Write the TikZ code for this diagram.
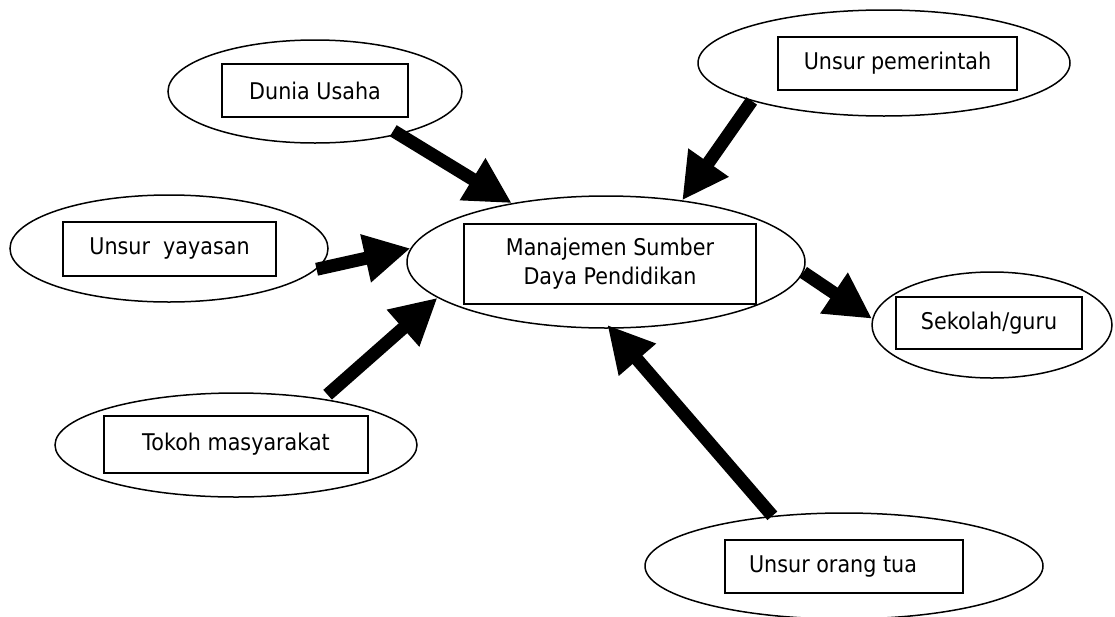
\documentclass[tikz,border=0pt]{standalone}
\usepackage{fontspec}
\setmainfont{DejaVu Sans}[FakeStretch=0.9]
\usetikzlibrary{shapes.geometric,arrows.meta}
\begin{document}
\begin{tikzpicture}[x=1pt,y=-1pt,
  ell/.style={draw=black,line width=1.5pt,shape=ellipse,inner sep=0pt},
  bx/.style={draw=black,line width=1.5pt,shape=rectangle,inner sep=0pt,align=center,
             font=\fontsize{23}{29}\selectfont},
  arr/.style={line width=13pt,line cap=butt,-{Triangle[width=46pt,length=46pt]}}]
\useasboundingbox (0,0) rectangle (1115,616);
% ellipses
\node[ell,minimum width=294pt,minimum height=103pt] (du)   at (315,91.5) {};
\node[ell,minimum width=372pt,minimum height=106pt] (pem)  at (884,63) {};
\node[ell,minimum width=318pt,minimum height=107pt] (yay)  at (169,248.5) {};
\node[ell,minimum width=398pt,minimum height=132pt] (main) at (606,262) {};
\node[ell,minimum width=240pt,minimum height=106pt] (sek)  at (992,325) {};
\node[ell,minimum width=362pt,minimum height=104pt] (tok)  at (236,445) {};
\node[ell,minimum width=398pt,minimum height=106pt] (ort)  at (844,566) {};
% boxes
\node[bx,minimum width=186pt,minimum height=53pt] (duB)   at (315,90.5) {Dunia Usaha};
\node[bx,minimum width=239pt,minimum height=53pt] (pemB)  at (897.5,63.5) {Unsur pemerintah};
\node[bx,minimum width=213pt,minimum height=54pt] (yayB)  at (169.5,249) {Unsur\ \ yayasan};
\node[bx,minimum width=292pt,minimum height=80pt] (mainB) at (610,264) {Manajemen Sumber\\Daya Pendidikan};
\node[bx,minimum width=186pt,minimum height=52pt] (sekB)  at (989,323) {Sekolah/guru};
\node[bx,minimum width=264pt,minimum height=57pt] (tokB)  at (236,444.5) {Tokoh masyarakat};
\node[bx,minimum width=238pt,minimum height=53pt] (ortB)  at (844,566.5) {Unsur orang tua\hspace{22pt}};
% arrows
\draw[arr,shorten <=-7pt] (du.-27) -- (main.148);
\draw[arr] (pem.196) -- (main.39);
\draw[arr] (yay.-8) -- (main.176);
\draw[arr,shorten <=6pt] (tok.28) -- (main.192);
\draw[arr] (main.-3) -- (sek.177);
\draw[arr,shorten >=-5pt] (ort.145) -- (main.-86);
\end{tikzpicture}
\end{document}
